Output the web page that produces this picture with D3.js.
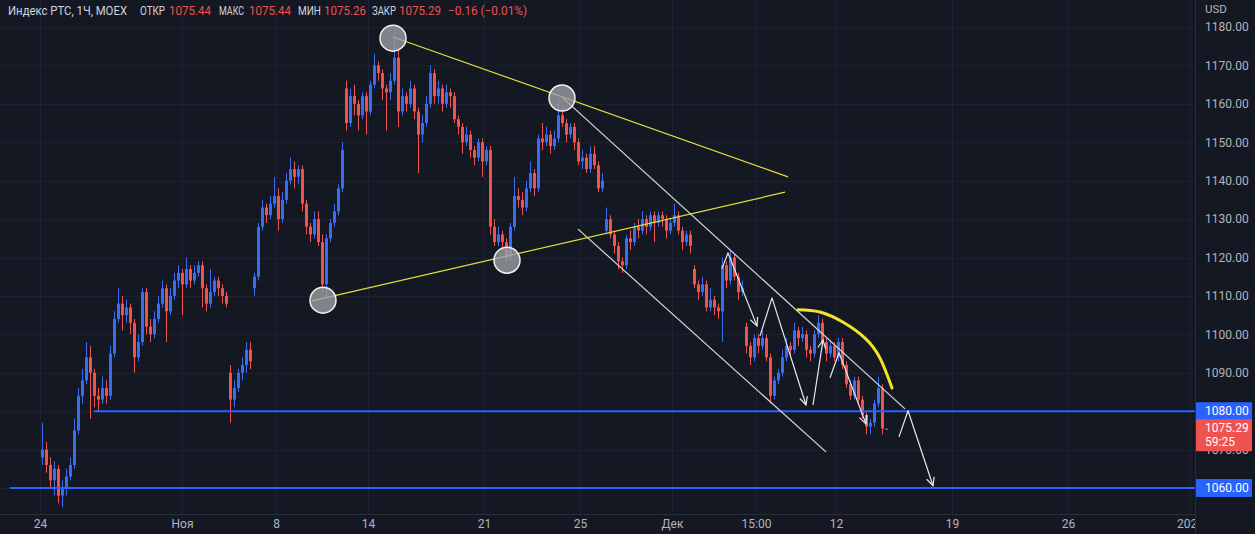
<!DOCTYPE html>
<html><head><meta charset="utf-8">
<script src="https://cdn.jsdelivr.net/npm/d3@7"></script>
<style>
html,body{margin:0;padding:0;background:#141823;}
svg{display:block;}
text{font-family:Roboto,"Noto Sans",sans-serif;}
</style></head>
<body>
<svg id="chart" width="1255" height="534"></svg>
<script>
// ---- data (hourly candles) ----
const closes = [
1070,1066,1062,1065,1058,1060,1063,1066,1075,1084,
1088,1094,1090,1084,1083,1086,1084,1095,1104,1108,
1105,1107,1103,1094,1098,1111,1102,1100,1104,1108,
1112,1106,1110,1114,1116,1113,1117,1114,1116,1118,
1112,1108,1111,1114,1112,1110,1108,1083,1086,1090,
1092,1096,1093,1115,1128,1133,1131,1134,1136,1130,
1135,1140,1143,1141,1143,1134,1128,1126,1130,1124,
1113,1125,1129,1132,1138,1148,1155,1162,1160,1157,
1162,1158,1165,1170,1168,1164,1163,1166,1172,1158,
1162,1160,1164,1158,1152,1155,1160,1168,1162,1164,
1160,1163,1162,1156,1154,1150,1152,1148,1146,1150,
1145,1148,1128,1124,1126,1124,1120,1128,1136,1135,
1133,1138,1142,1138,1151,1150,1152,1149,1151,1157,
1155,1152,1154,1150,1145,1146,1143,1147,1144,1138,
1140,1130,1126,1123,1119,1118,1125,1124,1128,1127,
1130,1128,1131,1129,1131,1130,1127,1129,1131,1127,
1124,1126,1123,1113,1111,1113,1107,1109,1107,1106,
1118,1114,1120,1115,1111,1112,1097,1094,1099,1097,
1099,1094,1084,1088,1090,1094,1097,1096,1101,1099,
1100,1096,1095,1100,1103,1098,1095,1097,1094,1098,
1092,1087,1084,1088,1083,1079,1076,1077,1082,1086,
1075.44,1075.29];
const highs = [
1077,1072,1068,1067,1066,1062,1065,1068,1078,1086,
1091,1098,1097,1091,1086,1089,1088,1097,1106,1112,
1110,1109,1108,1104,1100,1112,1112,1104,1106,1110,
1114,1113,1112,1116,1118,1117,1120,1118,1118,1119,
1119,1113,1117,1115,1115,1113,1111,1092,1088,1091,
1094,1098,1098,1116,1129,1135,1134,1136,1141,1138,
1137,1142,1146,1145,1144,1144,1135,1129,1132,1132,
1126,1126,1130,1134,1139,1150,1166,1164,1165,1161,
1163,1163,1166,1173,1171,1169,1165,1168,1177,1174,
1164,1163,1166,1165,1159,1157,1162,1170,1169,1166,
1165,1165,1164,1163,1157,1155,1154,1153,1149,1151,
1151,1149,1149,1130,1128,1127,1125,1129,1141,1138,
1137,1140,1145,1143,1152,1155,1154,1153,1153,1161,
1159,1156,1155,1155,1151,1148,1147,1149,1149,1145,
1142,1133,1131,1127,1124,1120,1126,1127,1129,1130,
1132,1131,1132,1132,1132,1132,1131,1130,1134,1132,
1128,1127,1127,1118,1114,1115,1114,1112,1110,1108,
1120,1119,1122,1121,1116,1114,1103,1098,1100,1100,
1101,1100,1095,1089,1091,1096,1099,1098,1103,1102,
1102,1101,1097,1101,1105,1104,1099,1098,1098,1099,
1099,1093,1088,1089,1089,1084,1080,1078,1083,1089,
1087,1075.44];
const lows = [
1066,1064,1060,1058,1056,1055,1058,1062,1065,1074,
1082,1087,1078,1081,1080,1082,1082,1083,1094,1103,
1101,1103,1100,1090,1093,1097,1100,1098,1099,1103,
1107,1098,1105,1109,1112,1105,1112,1112,1113,1115,
1107,1106,1107,1110,1110,1108,1107,1077,1081,1085,
1088,1090,1091,1110,1114,1127,1129,1130,1133,1127,
1129,1134,1139,1138,1139,1132,1126,1124,1125,1123,
1111,1109,1124,1128,1131,1137,1153,1154,1157,1153,
1156,1152,1157,1164,1166,1161,1153,1161,1165,1154,
1157,1158,1159,1156,1142,1150,1154,1159,1160,1160,
1158,1159,1159,1155,1152,1147,1149,1146,1144,1145,
1141,1144,1126,1123,1123,1122,1119,1119,1127,1133,
1131,1132,1137,1136,1137,1148,1149,1147,1148,1150,
1154,1150,1151,1148,1144,1143,1142,1142,1143,1137,
1137,1126,1125,1121,1117,1116,1117,1122,1123,1125,
1126,1126,1127,1124,1128,1128,1125,1126,1128,1126,
1122,1123,1121,1112,1109,1110,1106,1106,1105,1104,
1098,1112,1113,1114,1109,1110,1095,1092,1093,1095,
1096,1093,1082,1083,1087,1089,1093,1094,1095,1097,
1098,1094,1093,1094,1099,1097,1093,1094,1093,1093,
1091,1086,1083,1083,1082,1078,1074,1074,1076,1081,
1074,1075.26];
// opens follow the previous close except where the picture shows a gap
const gapOpenIndex = [0, 47, 53, 76, 141, 163, 176];
const gapOpenValue = [1068, 1090, 1112, 1164, 1127, 1117, 1102];

const priceTicks = [1070,1090,1100,1110,1120,1130,1140,1150,1160,1170,1180];
const timeTickIndex = [-0.5, 35, 58.5, 81.5, 110.5, 134.5, 157.5, 178.5, 198.5, 227.5, 256.5, 287];
const timeTickLabels = ["24","Ноя","8","14","21","25","Дек","15:00","12","19","26","2023"];

// horizontal levels
const levelPrices = [1080, 1060];
const levelStartIndex = [13, -8];
// drawings: [bar index, price]
const yellowUpper = [[87.75,1177.4],[186.5,1141.0]];
const yellowLower = [[67.5,1108.7],[185.75,1137.0]];
const channelUpper = [[130.25,1161.5],[215.75,1080.6]];
const channelLower = [[134,1127.4],[196,1069.4]];
const pivotCircles = [[87.75,1177.1],[130,1161.5],[70.25,1108.9],[116.25,1119.3]];
const arrow1 = [[170,1117.1],[171.5,1121.2],[178.75,1102.2]];
const arrow2 = [[179.5,1099.6],[182.5,1109.5],[191,1081.6]];
const arrow3 = [[192.75,1081.6],[195.25,1098.5]];
const arrow4 = [[197,1088.7],[199.25,1095.2],[206,1076.7]];
const arrow5 = [[214.25,1073.3],[216.5,1080.1],[222.75,1060.6]];
const arcPoints = [[189,1106.4],[194.5,1105.8],[200.5,1103.0],[205.75,1099.0],[209.5,1093.8],[212.5,1086.0]];

// header legend
const hdrLabels = ["Индекс РТС, 1Ч, MOEX","ОТКР","МАКС","МИН","ЗАКР"];
const hdrValues = ["1075.44","1075.44","1075.26","1075.29","−0.16 (−0.01%)"];

// ---- layout ----
const W = 1255, H = 534;
const plotRight = 1195, plotBottom = 514;
const bg = "#141823", gridC = "#1e2230", axisText = "#b2b5be";
const upC = "#3b6cf0", downC = "#ee5350";

const svg = d3.select("#chart");
svg.append("rect").attr("width", W).attr("height", H).attr("fill", bg);

const x = d3.scaleLinear().domain([0, 211]).range([42, 886]);
const y = d3.scaleLinear().domain([1060, 1180]).range([488, 27]);

const defs = svg.append("defs");
defs.append("clipPath").attr("id","plotClip")
  .append("rect").attr("x",0).attr("y",0).attr("width",plotRight).attr("height",plotBottom);
defs.append("clipPath").attr("id","timeClip")
  .append("rect").attr("x",0).attr("y",plotBottom).attr("width",plotRight).attr("height",H-plotBottom);

const plot = svg.append("g").attr("clip-path","url(#plotClip)");

// grid
const allPriceGrid = d3.range(1060, 1181, 10);
plot.append("g").selectAll("line").data(allPriceGrid).join("line")
  .attr("x1",0).attr("x2",plotRight)
  .attr("y1",d=>Math.round(y(d))+0.5).attr("y2",d=>Math.round(y(d))+0.5)
  .attr("stroke",gridC).attr("stroke-width",1);
plot.append("g").selectAll("line").data(timeTickIndex).join("line")
  .attr("x1",d=>Math.round(x(d))+0.5).attr("x2",d=>Math.round(x(d))+0.5)
  .attr("y1",0).attr("y2",plotBottom)
  .attr("stroke",gridC).attr("stroke-width",1);

// candles
const opens = closes.map((c,i)=>{
  const g = gapOpenIndex.indexOf(i);
  return g >= 0 ? gapOpenValue[g] : closes[i-1];
});
const bars = closes.map((c,i)=>({i, o:opens[i], h:highs[i], l:lows[i], c}));
const cg = plot.append("g");
cg.selectAll("line.wick").data(bars).join("line").attr("class","wick")
  .attr("x1",d=>Math.round(x(d.i))+0.5).attr("x2",d=>Math.round(x(d.i))+0.5)
  .attr("y1",d=>y(d.h)).attr("y2",d=>y(d.l))
  .attr("stroke",d=>d.c>=d.o?upC:downC).attr("stroke-width",1);
cg.selectAll("rect.body").data(bars).join("rect").attr("class","body")
  .attr("x",d=>Math.round(x(d.i))-1).attr("width",3)
  .attr("y",d=>y(Math.max(d.o,d.c)))
  .attr("height",d=>Math.max(1, Math.abs(y(d.o)-y(d.c))))
  .attr("fill",d=>d.c>=d.o?upC:downC);

// horizontal levels
plot.append("g").selectAll("line").data(levelPrices).join("line")
  .attr("x1",(d,i)=>x(levelStartIndex[i])).attr("x2",plotRight)
  .attr("y1",d=>y(d)).attr("y2",d=>y(d))
  .attr("stroke","#2962ff").attr("stroke-width",2);

const line = d3.line().x(d=>x(d[0])).y(d=>y(d[1]));

// yellow triangle lines
[yellowUpper, yellowLower].forEach(pts=>{
  plot.append("path").attr("d",line(pts)).attr("fill","none")
    .attr("stroke","#e6dd3b").attr("stroke-width",1.2);
});
// channel
[channelUpper, channelLower].forEach(pts=>{
  plot.append("path").attr("d",line(pts)).attr("fill","none")
    .attr("stroke","#d6d8de").attr("stroke-width",1.2);
});
// arrows
function arrowHead(pts){
  const a = pts[pts.length-2], b = pts[pts.length-1];
  const ax = x(a[0]), ay = y(a[1]), bx = x(b[0]), by = y(b[1]);
  const ang = Math.atan2(by-ay, bx-ax);
  const L = 9, s = 0.45;
  const p1 = [bx - L*Math.cos(ang - s), by - L*Math.sin(ang - s)];
  const p2 = [bx - L*Math.cos(ang + s), by - L*Math.sin(ang + s)];
  return `M${p1[0]},${p1[1]}L${bx},${by}L${p2[0]},${p2[1]}`;
}
[arrow1, arrow2, arrow3, arrow4, arrow5].forEach(pts=>{
  plot.append("path").attr("d",line(pts)).attr("fill","none")
    .attr("stroke","#e8eaee").attr("stroke-width",1.2).attr("stroke-linejoin","round");
  plot.append("path").attr("d",arrowHead(pts)).attr("fill","none")
    .attr("stroke","#e8eaee").attr("stroke-width",1.2);
});
// yellow arc
plot.append("path").attr("d", d3.line().x(d=>x(d[0])).y(d=>y(d[1])).curve(d3.curveNatural)(arcPoints))
  .attr("fill","none").attr("stroke","#f2e22c").attr("stroke-width",3).attr("stroke-linecap","round");
// pivot circles
plot.append("g").selectAll("circle").data(pivotCircles).join("circle")
  .attr("cx",d=>x(d[0])).attr("cy",d=>y(d[1])).attr("r",13)
  .attr("fill","rgba(160,162,168,0.78)").attr("stroke","#f0f0f0").attr("stroke-width",1.5);

// separators
svg.append("line").attr("x1",plotRight+0.5).attr("x2",plotRight+0.5).attr("y1",0).attr("y2",H)
  .attr("stroke","#2a2e39");
svg.append("line").attr("x1",0).attr("x2",plotRight).attr("y1",plotBottom+0.5).attr("y2",plotBottom+0.5)
  .attr("stroke","#2a2e39");

// price axis
const yAxis = d3.axisRight(y).tickValues(priceTicks).tickFormat(d3.format(".2f")).tickSize(0).tickPadding(0);
const ya = svg.append("g").attr("transform",`translate(${plotRight+10},0)`).call(yAxis);
ya.select(".domain").remove();
ya.selectAll("text").attr("fill",axisText).attr("font-size",12).attr("font-family","Roboto,sans-serif");
svg.append("text").attr("x",plotRight+10).attr("y",9).attr("dy","0.35em").text("USD")
  .attr("fill",axisText).attr("font-size",11.5);

// price labels on axis
levelPrices.forEach(p=>{
  svg.append("rect").attr("x",plotRight+1).attr("y",y(p)-9).attr("width",W-plotRight-4).attr("height",18)
    .attr("fill","#2962ff").attr("rx",1);
  svg.append("text").attr("x",plotRight+10).attr("y",y(p)).attr("dy","0.35em")
    .text(d3.format(".2f")(p)).attr("fill","#ffffff").attr("font-size",12);
});
const lastClose = closes[closes.length-1];
svg.append("rect").attr("x",plotRight+1).attr("y",y(lastClose)-10).attr("width",W-plotRight-4).attr("height",32)
  .attr("fill","#ef5350").attr("rx",1);
svg.append("text").attr("x",plotRight+10).attr("y",y(lastClose)-1).attr("dy","0.35em")
  .text(d3.format(".2f")(lastClose)).attr("fill","#ffffff").attr("font-size",12);
svg.append("text").attr("x",plotRight+10).attr("y",y(lastClose)+13).attr("dy","0.35em")
  .text("59:25").attr("fill","#ffffff").attr("font-size",12);

// time axis
const xAxis = d3.axisBottom(x).tickValues(timeTickIndex).tickFormat((d,i)=>timeTickLabels[i]).tickSize(0).tickPadding(0);
const xa = svg.append("g").attr("clip-path","url(#timeClip)").append("g")
  .attr("transform",`translate(0,${plotBottom+5})`).call(xAxis);
xa.select(".domain").remove();
xa.selectAll("text").attr("fill",axisText).attr("font-size",12).attr("font-family","Roboto,sans-serif");

// header legend (positions/widths matched to the reference)
const hdrLabelX = [8,140,219,298,372], hdrLabelW = [119,25,25,23,24];
const hdrValueX = [169,249,324,399,448], hdrValueW = [42,42,42,42,79];
const hdr = svg.append("g");
hdrLabels.forEach((t,i)=>hdr.append("text").attr("x",hdrLabelX[i]).attr("y",11).attr("dy","0.35em")
  .text(t).attr("fill","#d1d4dc").attr("font-size",12)
  .attr("textLength",hdrLabelW[i]).attr("lengthAdjust","spacingAndGlyphs"));
hdrValues.forEach((t,i)=>hdr.append("text").attr("x",hdrValueX[i]).attr("y",11).attr("dy","0.35em")
  .text(t).attr("fill","#f0524f").attr("font-size",12)
  .attr("textLength",hdrValueW[i]).attr("lengthAdjust","spacingAndGlyphs"));
</script>
</body></html>
